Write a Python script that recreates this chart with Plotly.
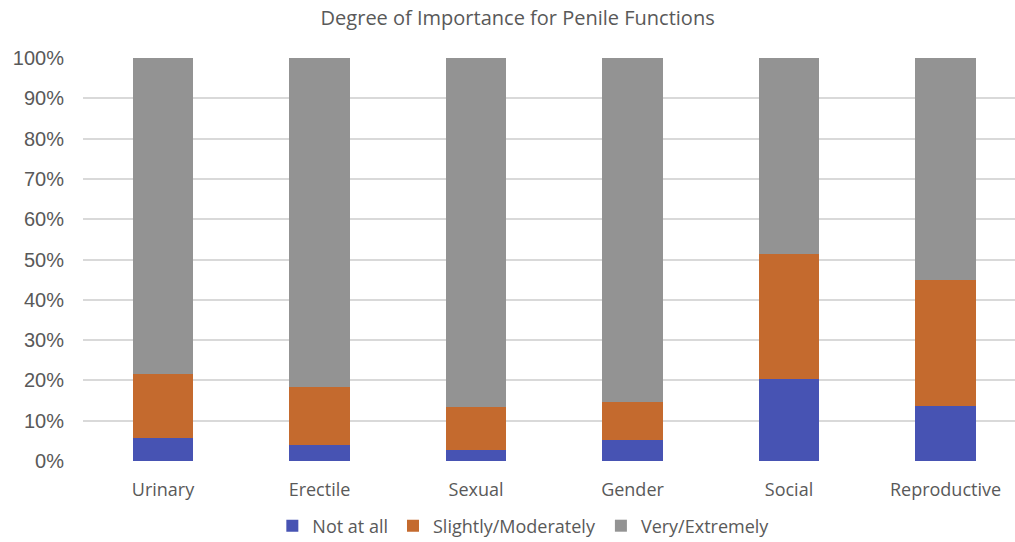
import plotly.graph_objects as go

categories = ["Urinary", "Erectile", "Sexual", "Gender", "Social", "Reproductive"]
not_at_all = [0.058, 0.039, 0.027, 0.053, 0.203, 0.137]
slightly_moderately = [0.158, 0.145, 0.108, 0.093, 0.311, 0.311]
very_extremely = [1 - a - b for a, b in zip(not_at_all, slightly_moderately)]

series = [
    ("Not at all", not_at_all, "#4753B3"),
    ("Slightly/Moderately", slightly_moderately, "#C46A2E"),
    ("Very/Extremely", very_extremely, "#939393"),
]

fig = go.Figure()
for name, vals, color in series:
    fig.add_trace(go.Bar(x=categories, y=vals, name=name, marker_color=color,
                         marker_line_width=0))

fig.update_layout(
    barmode="stack",
    bargap=0.612,
    width=1015, height=542,
    margin=dict(l=83, r=0, t=58, b=81, autoexpand=False),
    paper_bgcolor="white", plot_bgcolor="white",
    title=dict(text="Degree of Importance for Penile Functions", x=0.51, xanchor="center",
               y=1 - 18 / 542, yanchor="middle", yref="container",
               font=dict(family="Open Sans", size=20, color="#595959")),
    legend=dict(orientation="h", x=0.473, xanchor="center", xref="paper",
                y=1 - 526 / 542, yanchor="middle", yref="container",
                font=dict(family="Open Sans", size=18, color="#595959"), traceorder="normal",
                itemwidth=30),
    xaxis=dict(range=[-0.511, 5.444], showgrid=False, showline=False, ticks="",
               ticklabelstandoff=16,
               tickfont=dict(family="Open Sans", size=18, color="#595959")),
    yaxis=dict(range=[0, 1], dtick=0.1, tickformat=".0%", showgrid=True,
               gridcolor="#D9D9D9", gridwidth=1.5, zeroline=False, ticks="",
               ticklabelstandoff=18,
               tickfont=dict(family="Liberation Sans", size=20, color="#595959")),
)

fig.write_html("out.html", config={"displayModeBar": False},
               post_script="document.body.style.margin='0';document.body.style.overflow='hidden';")
